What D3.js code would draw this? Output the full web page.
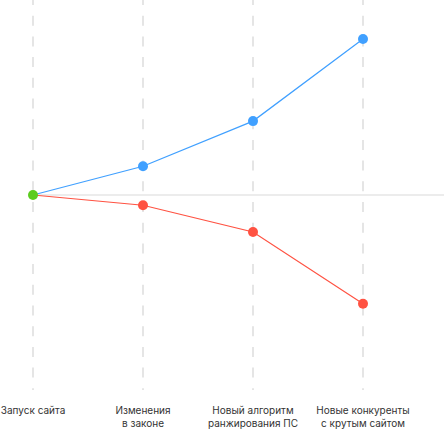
<!DOCTYPE html>
<html>
<head>
<meta charset="utf-8">
<script src="https://cdn.jsdelivr.net/npm/d3@7"></script>
<style>
  html, body { margin: 0; padding: 0; background: #fff; }
  svg { display: block; }
  .label { font-family: Inter, "Noto Sans", sans-serif; font-size: 10px; fill: #333; }
</style>
</head>
<body>
<div id="chart"></div>
<script>
// data
const stages = ["Запуск сайта", "Изменения\nв законе", "Новый алгоритм\nранжирования ПС", "Новые конкуренты\nс крутым сайтом"];
const growth = [0, 14, 36, 76];
const decline = [0, -5, -18, -53];

const width = 444, height = 430;

const svg = d3.select("#chart").append("svg")
    .attr("width", width)
    .attr("height", height);

const x = d3.scalePoint()
    .domain(stages)
    .range([33, 363]);

const y = d3.scaleLinear()
    .domain([-95, 95])
    .range([390, 0]);

// dashed vertical guides
svg.selectAll(".guide")
    .data(stages)
    .enter()
    .append("line")
    .attr("class", "guide")
    .attr("x1", d => x(d))
    .attr("x2", d => x(d))
    .attr("y1", y(95) - 5)
    .attr("y2", y(-95))
    .attr("stroke", "#e5e5e5")
    .attr("stroke-width", 2)
    .attr("stroke-dasharray", "10,10.7");

// baseline
svg.append("line")
    .attr("x1", x(stages[0]))
    .attr("x2", width)
    .attr("y1", y(0))
    .attr("y2", y(0))
    .attr("stroke", "#d9d9d9")
    .attr("stroke-width", 1);

const line = d3.line()
    .x((d, i) => x(stages[i]))
    .y(d => y(d));

const series = [
    {values: growth, color: "#40a0ff"},
    {values: decline, color: "#ff5242"}
];

series.forEach(s => {
    svg.append("path")
        .datum(s.values)
        .attr("d", line)
        .attr("fill", "none")
        .attr("stroke", s.color)
        .attr("stroke-width", 1.2);

    svg.selectAll(null)
        .data(s.values.slice(1))
        .enter()
        .append("circle")
        .attr("cx", (d, i) => x(stages[i + 1]))
        .attr("cy", d => y(d))
        .attr("r", 5)
        .attr("fill", s.color);
});

// start point
svg.append("circle")
    .attr("cx", x(stages[0]))
    .attr("cy", y(growth[0]))
    .attr("r", 5)
    .attr("fill", "#5ccc1f");

// category labels
const labels = svg.selectAll(".label")
    .data(stages)
    .enter()
    .append("text")
    .attr("class", "label")
    .attr("text-anchor", "middle")
    .attr("x", d => x(d))
    .attr("y", 414);

labels.selectAll("tspan")
    .data(d => d.split("\n").map(t => ({t: t, parent: d})))
    .enter()
    .append("tspan")
    .attr("x", d => x(d.parent))
    .attr("dy", (d, i) => i === 0 ? 0 : 13)
    .text(d => d.t);
</script>
</body>
</html>
